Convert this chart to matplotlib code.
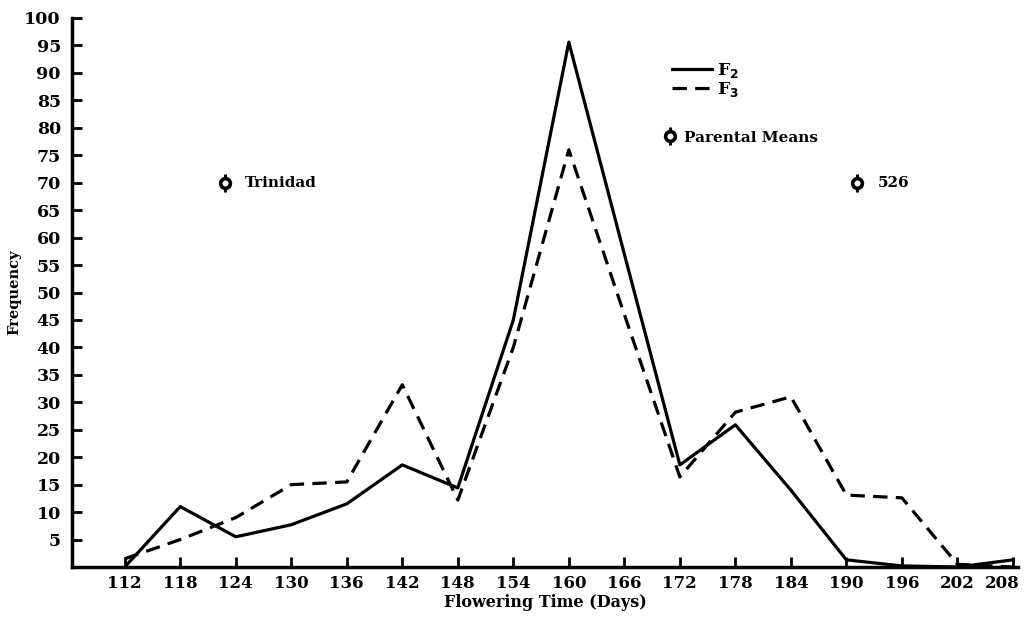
import matplotlib

matplotlib.use("Agg")
import matplotlib.pyplot as plt
from matplotlib.legend_handler import HandlerTuple
from matplotlib.lines import Line2D

# Flowering time classes (days) and frequencies
days = [112, 118, 124, 130, 136, 142, 148, 154, 160, 166, 172, 178, 184, 190, 196, 202, 208]
f2 = [0, 11, 5.5, 7.7, 11.5, 18.6, 14.4, 45, 95.6, 57, 18.6, 25.9, 14, 1.3, 0.2, 0, 1.3]
f3 = [1.5, 5, 9, 15, 15.5, 33.2, 12.2, 40, 76, 46, 16.4, 28.2, 31, 13.1, 12.6, 0.5, 0]

# Parental means
parent_names = ["Trinidad", "526"]
parent_days = [122.8, 191.2]
parent_freq = [70, 70]

yticks = list(range(5, 101, 5))

plt.rcParams["font.family"] = "DejaVu Serif"
plt.rcParams["font.weight"] = "bold"
DASH = (0, (4.5, 2.6))

fig = plt.figure(figsize=(10.24, 6.19), dpi=100)
ax = fig.add_axes([72 / 1024, 52 / 619, 946 / 1024, 549 / 619])

(l_f2,) = ax.plot(days, f2, color="black", linewidth=2.3, linestyle="-")
(l_f3,) = ax.plot(days, f3, color="black", linewidth=2.3, linestyle=DASH)

# parental mean markers
for name, d, y in zip(parent_names, parent_days, parent_freq):
    ax.plot(d, y, marker="|", color="black", markersize=13, mew=2.2)
    ax.plot(d, y, marker="o", color="black", markersize=7, mfc="white", mew=2.6)
    ax.text(d + 2.2, y, name, ha="left", va="center", fontsize=11, fontweight="bold")

ax.set_xlim(106.3, 208.55)
ax.set_ylim(0, 100)
ax.set_xticks(days)
# last label sits a little left of its tick in the original (page edge)
ax.set_xticklabels([str(d) for d in days[:-1]] + [""], fontsize=12)
ax.annotate(
    str(days[-1]),
    xy=(days[-1], 0),
    xycoords=("data", "axes fraction"),
    xytext=(-8, -6),
    textcoords="offset points",
    ha="center",
    va="top",
    fontsize=12,
    fontweight="bold",
)
ax.set_yticks(yticks)
ax.set_yticklabels([str(t) for t in yticks], fontsize=12.5)

for s in ["top", "right"]:
    ax.spines[s].set_visible(False)
for s in ["left", "bottom"]:
    ax.spines[s].set_linewidth(2.5)
ax.tick_params(direction="in", length=7, width=2, pad=6)
ax.tick_params(axis="y", pad=8)

ax.set_xlabel("Flowering Time (Days)", fontsize=11.5, fontweight="bold", labelpad=1)
ax.set_ylabel("Frequency", fontsize=10.5, fontweight="bold", labelpad=2)

# legend without frame: line styles, then parental means lower down
leg1 = ax.legend(
    [l_f2, l_f3],
    ["F$_2$", "F$_3$"],
    loc="upper left",
    bbox_to_anchor=(0.618, 0.95),
    frameon=False,
    fontsize=12.5,
    handlelength=2.3,
    handletextpad=0.3,
    labelspacing=0.0,
)
ax.add_artist(leg1)

h_pm1 = Line2D([], [], marker="|", color="black", markersize=13, mew=2.2, linestyle="none")
h_pm2 = Line2D([], [], marker="o", color="black", markersize=7, mfc="white", mew=2.6,
               linestyle="none")
ax.legend(
    [(h_pm1, h_pm2)],
    ["Parental Means"],
    handler_map={tuple: HandlerTuple(ndivide=1)},
    loc="upper left",
    bbox_to_anchor=(0.61, 0.82),
    frameon=False,
    fontsize=11,
    handlelength=1.0,
    handletextpad=0.4,
)

plt.savefig("out.png", dpi=100)
plt.close()
